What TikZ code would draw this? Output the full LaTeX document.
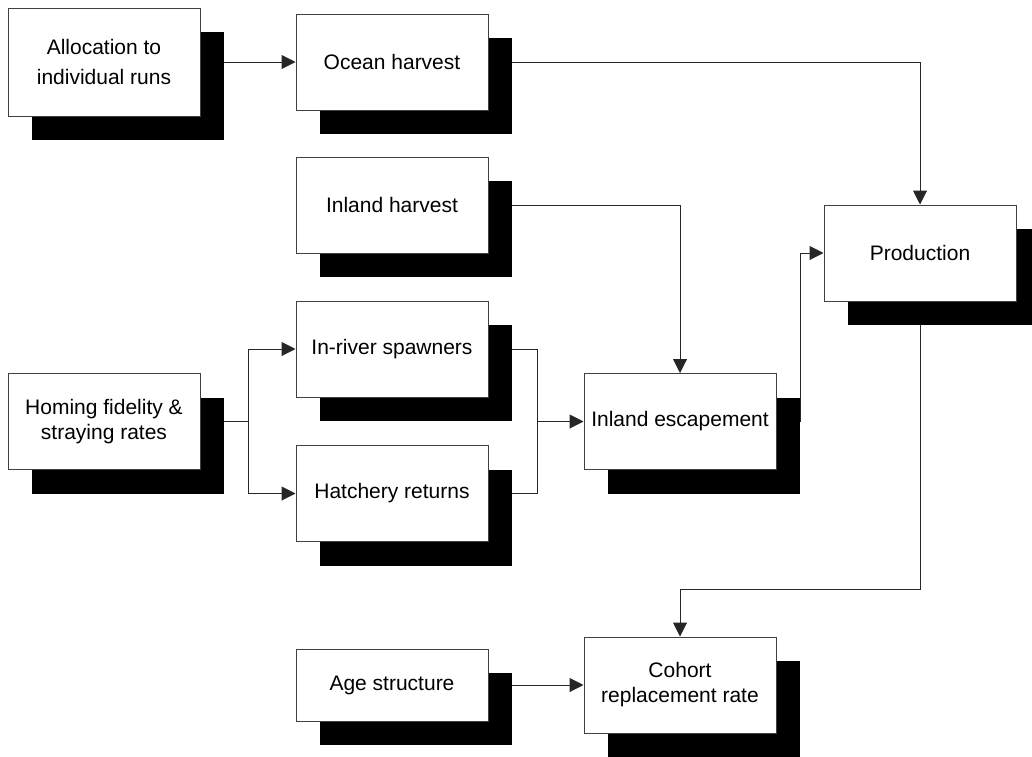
\documentclass[tikz,border=0pt]{standalone}
\usepackage{fontspec}
\setmainfont{Liberation Sans}
\usetikzlibrary{arrows.meta,shadows,backgrounds}
\tikzset{
  box/.style={draw=black!75, line width=1pt, fill=white, minimum width=192pt, minimum height=96pt,
    inner sep=0pt, align=center, font=\fontsize{21}{25}\selectfont,
    general shadow={fill=black, shadow xshift=24pt, shadow yshift=-24pt}},
  line/.style={draw=black!85, line width=1pt},
  conn/.style={line, -{Triangle[length=14pt,width=14pt]}},
}
\begin{document}
\begin{tikzpicture}[x=1pt,y=-1pt]
\useasboundingbox (0,0) rectangle (1032,756);
\node[box, minimum height=108pt, font=\fontsize{21}{30.5}\selectfont] (alloc) at (104,62) {Allocation to\\individual runs};
\node[box] (ocean) at (392,62) {Ocean harvest};
\node[box] (iharv) at (392,205) {Inland harvest};
\node[box] (prod) at (920,253) {Production};
\node[box] (homing) at (104,421.5) {Homing fidelity \&\\straying rates};
\node[box] (inriver) at (392,349) {In-river spawners};
\node[box] (hatch) at (392,493.5) {Hatchery returns};
\node[box] (iesc) at (680,421.5) {Inland escapement};
\node[box, minimum height=72pt] (age) at (392,685) {Age structure};
\node[box] (cohort) at (680,685) {Cohort\\replacement rate};
\coordinate (j1) at (248,421.5);
\coordinate (j2) at (537,421.5);
\coordinate (j3) at (800,421.5);
\coordinate (j4) at (920,589);
\begin{scope}[on background layer]
\fill[white] (0,0) rectangle (1032,756);
\draw[conn] (alloc.east) -- (ocean.west);
\draw[conn] (ocean.east) -| (prod.north);
\draw[conn] (iharv.east) -| (iesc.north);
\draw[line] (homing.east) -- (j1);
\draw[conn] (j1) |- (inriver.west);
\draw[conn] (j1) |- (hatch.west);
\draw[line] (inriver.east) -| (j2);
\draw[line] (hatch.east) -| (j2);
\draw[conn] (j2) -- (iesc.west);
\draw[conn] (iesc.east) -- (j3) |- (prod.west);
\draw[conn] (prod.south) -- (j4) -| (cohort.north);
\draw[conn] (age.east) -- (cohort.west);
\end{scope}
\end{tikzpicture}
\end{document}
